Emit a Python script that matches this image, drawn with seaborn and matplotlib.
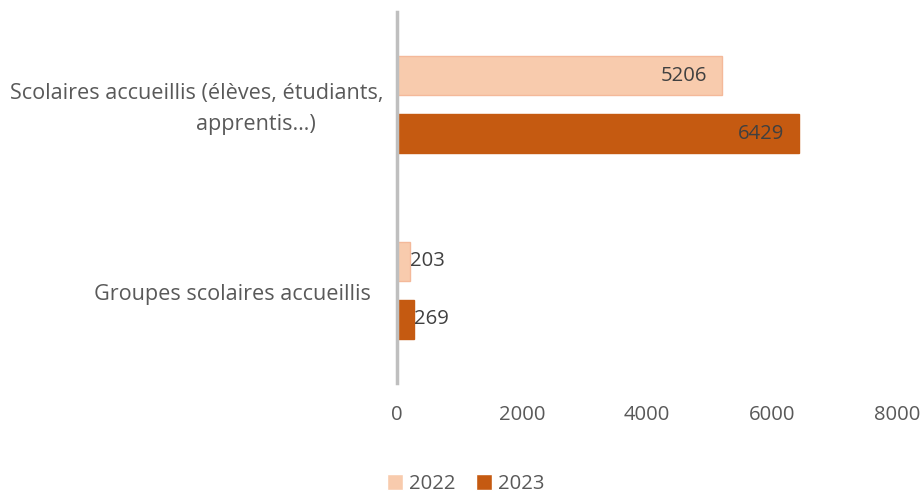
import seaborn as sns
import matplotlib.pyplot as plt
import matplotlib.transforms as mtransforms
import pandas as pd

# Données
categories = ["Scolaires accueillis (élèves, étudiants, apprentis…)",
              "Groupes scolaires accueillis"]
annees = ["2022", "2023"]
valeurs_2022 = [5206, 203]
valeurs_2023 = [6429, 269]
couleurs = {"2022": "#F8CBAD", "2023": "#C55A11"}
bords = {"2022": "#F4B99A", "2023": "#C55A11"}

df = pd.DataFrame({
    "categorie": categories * 2,
    "annee": ["2022"] * 2 + ["2023"] * 2,
    "valeur": valeurs_2022 + valeurs_2023,
})

sns.set_style("white")
plt.rcParams["font.family"] = ["Open Sans", "DejaVu Sans"]
fs = 14.6
fs_cat = 15.6

fig = plt.figure(figsize=(9.24, 4.93), dpi=100)
ax = fig.add_axes([0.4297, 0.2231, 0.5411, 0.7526])

sns.barplot(data=df, y="categorie", x="valeur", hue="annee", hue_order=annees,
            order=categories, palette=couleurs, orient="h",
            width=0.625, gap=0.33, ax=ax, saturation=1, legend=True)

# bordures légères
for cont, an in zip(ax.containers, annees):
    for p in cont:
        p.set_edgecolor(bords[an])
        p.set_linewidth(1)

# étiquettes de valeurs
for cont in ax.containers:
    for p in cont:
        v = p.get_width()
        yc = p.get_y() + p.get_height() / 2
        if v > 1000:
            ax.text(v - 240, yc, f"{int(v)}", ha="right", va="center",
                    fontsize=fs, color="#404040")
        else:
            ax.text(v + 8, yc, f"{int(v)}", ha="left", va="center",
                    fontsize=fs, color="#404040")

ax.set_xlim(0, 8000)
ax.set_ylim(1.5, -0.5)
ax.set_xticks([0, 2000, 4000, 6000, 8000])
ax.tick_params(axis="x", length=0, labelsize=fs, labelcolor="#595959", pad=16)
ax.tick_params(axis="y", length=0)
ax.set_yticklabels([])
ax.set_xlabel("")
ax.set_ylabel("")

for s in ["top", "right", "bottom"]:
    ax.spines[s].set_visible(False)
ax.spines["left"].set_color("#BFBFBF")
ax.spines["left"].set_linewidth(2.5)

# libellés des catégories
trans = mtransforms.blended_transform_factory(fig.transFigure, ax.transData)
ax.text(384 / 924, -0.058, "Scolaires accueillis (élèves, étudiants,", transform=trans,
        ha="right", va="center", fontsize=fs_cat, color="#595959")
ax.text(316 / 924, 0.105, "apprentis…)", transform=trans,
        ha="right", va="center", fontsize=fs_cat, color="#595959")
ax.text(371 / 924, 1.025, "Groupes scolaires accueillis", transform=trans,
        ha="right", va="center", fontsize=fs_cat, color="#595959")

# légende
handles, labels = ax.get_legend_handles_labels()
ax.legend(handles, labels, loc="center", bbox_to_anchor=(466 / 924, 9 / 493),
          bbox_transform=fig.transFigure, ncol=2, frameon=False,
          fontsize=fs, labelcolor="#595959", handlelength=0.8, handleheight=0.8,
          handletextpad=0.3, columnspacing=1.0)

fig.savefig("out.png", dpi=100)
